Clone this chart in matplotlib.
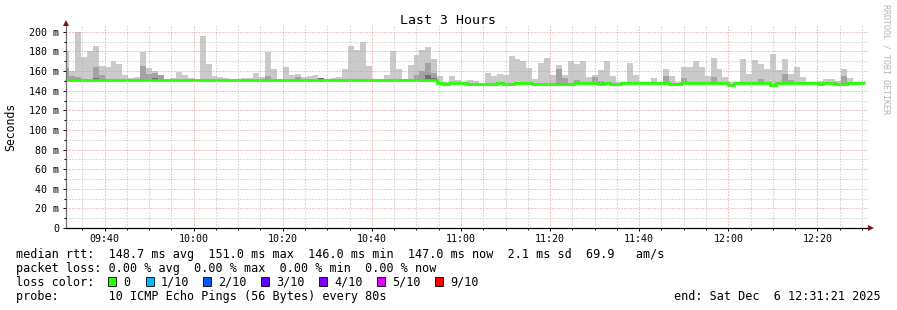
import numpy as np
import matplotlib
matplotlib.use('Agg')
import matplotlib.pyplot as plt
import matplotlib.dates as mdates
from matplotlib.ticker import MultipleLocator, FuncFormatter
from matplotlib.patches import Rectangle, Polygon
from datetime import datetime, timedelta

W, H = 897, 310
start = datetime(2025, 12, 6, 9, 31, 21)
end = datetime(2025, 12, 6, 12, 31, 21)
step_s = 80

# max ping per 80s step (ms), first step is cut by the left edge
smoke_max = [180, 160, 200, 174, 180, 186, 165, 164, 170, 167,
             156, 153, 154, 179, 163, 160, 156, 152, 153, 159,
             156, 153, 152, 196, 167, 155, 154, 153, 152, 152,
             153, 153, 158, 154, 179, 162, 152, 164, 156, 157,
             154, 155, 156, 153, 152, 153, 154, 162, 186, 182,
             190, 165, 152, 152, 156, 181, 162, 152, 166, 176,
             182, 185, 172, 155, 149, 155, 151, 149, 151, 150,
             148, 158, 155, 157, 156, 175, 172, 170, 163, 152,
             168, 173, 156, 166, 156, 170, 167, 170, 154, 156,
             161, 170, 155, 149, 149, 168, 156, 149, 149, 153,
             149, 162, 155, 149, 164, 164, 170, 164, 155, 173,
             162, 154, 149, 149, 172, 157, 171, 167, 162, 177,
             161, 172, 157, 164, 154, 149, 149, 150, 152, 152,
             150, 162, 153, 149, 149]

median = [151.0] * 63 + [
    148, 147, 148, 148, 148, 146.5, 146.5, 147, 146.5, 147,
    148, 146.5, 147, 148, 148, 148, 146.5, 147, 146.5, 147,
    147, 146.5, 146.5, 148, 148, 148, 148, 146.5, 147.5, 146.5,
    146.5, 148, 148, 148, 148, 148, 148, 147.5, 148, 146.5,
    146.5, 148, 148, 148, 148, 148, 148, 148, 148, 146,
    148, 148, 148, 148, 148, 148, 146, 148, 148, 148,
    148, 148, 148, 148, 146.5, 148, 148, 146.5, 146.5, 148,
    148, 148]

# darker smoke (more pings in that band)
mid_idx = [0, 1, 2, 5, 6, 13, 14, 15, 16, 34, 39, 43, 59, 60, 61, 62,
           83, 84, 86, 89, 90, 101, 104, 109, 117, 121, 122, 131]
mid_val = [163, 155, 154, 164, 156, 165, 157, 158, 156, 155, 154, 153, 156, 160, 168, 158,
           162, 153, 151, 154, 150, 155, 153, 154, 152, 157, 151, 155]
dark_idx = [5, 15, 43, 61, 62]
dark_val = [153, 153, 153, 156, 153]

loss_labels = ['0', '1/10', '2/10', '3/10', '4/10', '5/10', '9/10']
loss_colors = ['#26ff00', '#00b8ff', '#0059ff', '#5e00ff', '#7e00ff', '#dd00ff', '#ff0000']

legend_lines = [
    'median rtt:  148.7 ms avg  151.0 ms max  146.0 ms min  147.0 ms now  2.1 ms sd  69.9   am/s',
    'packet loss: 0.00 % avg  0.00 % max  0.00 % min  0.00 % now',
    'loss color:',
    'probe:       10 ICMP Echo Pings (56 Bytes) every 80s',
]

plt.rcParams['font.family'] = 'DejaVu Sans Mono'

def P(x, y):
    return (x / W, 1 - y / H)

fig = plt.figure(figsize=(W / 100, H / 100), dpi=100)
fig.patch.set_facecolor('white')
ax = fig.add_axes([66 / W, (H - 228) / H, (868 - 66) / W, (228 - 26) / H])

edges = mdates.date2num([start + timedelta(seconds=-40 + step_s * j) for j in range(len(smoke_max) + 1)])
left = edges[:-1]
wid = np.diff(edges)
med = np.array(median)
smax = np.array(smoke_max, dtype=float)

ax.bar(left, smax - med, width=wid, bottom=med, align='edge', color='#cacaca', linewidth=0)
mi = np.array(mid_idx)
ax.bar(left[mi], np.array(mid_val) - med[mi], width=wid[mi], bottom=med[mi], align='edge',
       color='#a3a3a3', linewidth=0)
di = np.array(dark_idx)
ax.bar(left[di], np.array(dark_val) - med[di], width=wid[di], bottom=med[di], align='edge',
       color='#6e6e6e', linewidth=0)
ax.stairs(med, edges, baseline=None, color='#26ff00', linewidth=2.0)

ax.set_xlim(mdates.date2num(start), mdates.date2num(end))
ax.set_ylim(0, 206)
ax.xaxis.set_major_locator(mdates.MinuteLocator(byminute=[0, 20, 40]))
ax.xaxis.set_minor_locator(mdates.MinuteLocator(byminute=range(0, 60, 5)))
ax.xaxis.set_major_formatter(mdates.DateFormatter('%H:%M'))
ax.yaxis.set_major_locator(MultipleLocator(20))
ax.yaxis.set_minor_locator(MultipleLocator(10))
ax.yaxis.set_major_formatter(FuncFormatter(lambda v, p: '0' if v == 0 else '%d m' % v))

ax.set_axisbelow(False)
ax.grid(which='minor', color='#b8b8b8', linestyle=(0, (1, 2)), linewidth=0.72)
ax.grid(which='major', color='#ec8a8a', linestyle=(0, (1, 2)), linewidth=0.72)

for s in ['top', 'right']:
    ax.spines[s].set_visible(False)
ax.spines['left'].set_color('#707070')
ax.spines['left'].set_linewidth(0.9)
ax.spines['bottom'].set_color('#000000')
ax.spines['bottom'].set_linewidth(0.9)
ax.tick_params(which='major', length=2.2, width=0.7, labelsize=7.2, colors='#000000')
ax.tick_params(which='minor', length=1.4, width=0.7)
ax.tick_params(axis='y', pad=2.6)
ax.tick_params(axis='x', pad=2.0)

# axis arrows
fig.add_artist(Polygon([P(63, 26), P(69, 26), P(66, 20)], closed=True, transform=fig.transFigure,
                       facecolor='#7a1414', edgecolor='none'))
fig.add_artist(Polygon([P(868, 225), P(868, 231), P(874, 228)], closed=True, transform=fig.transFigure,
                       facecolor='#7a1414', edgecolor='none'))

fig.text(*P(448, 24), 'Last 3 Hours', ha='center', va='baseline', fontsize=9.5)
fig.text(*P(11, 127), 'Seconds', ha='center', va='center', rotation=90, fontsize=8.3)
fig.text(*P(886, 59), 'RRDTOOL / TOBI OETIKER', ha='center', va='center', rotation=270,
         fontsize=6, color='#b4b4b4')

fs = 8.5
for y, s in zip([257.7, 271.7, 285.7, 300], legend_lines):
    fig.text(*P(16, y), s, ha='left', va='baseline', fontsize=fs)
fig.text(*P(881, 300), 'end: Sat Dec  6 12:31:21 2025', ha='right', va='baseline', fontsize=fs)

box_x = [108, 146, 203, 261, 319, 377, 435]
for bx, lab, col in zip(box_x, loss_labels, loss_colors):
    fig.add_artist(Rectangle(P(bx, 286), 8 / W, 9 / H, transform=fig.transFigure,
                             facecolor=col, edgecolor='#000000', linewidth=0.6))
    fig.text(*P(bx + 15, 285.7), lab, ha='left', va='baseline', fontsize=fs)

fig.savefig('out.png', dpi=100)
